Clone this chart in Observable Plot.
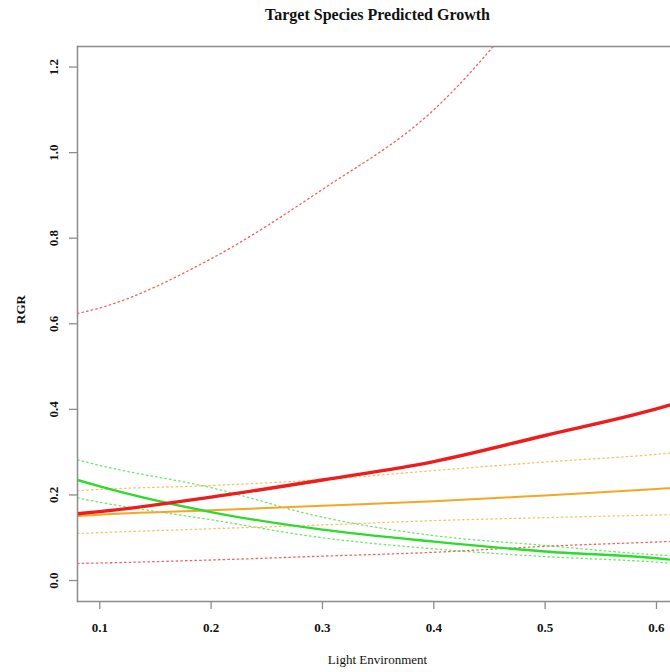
<!DOCTYPE html>
<html>
<head>
<meta charset="utf-8">
<script src="https://cdn.jsdelivr.net/npm/d3@7"></script>
<script src="https://cdn.jsdelivr.net/npm/@observablehq/plot@0.6"></script>
<style>
  html, body { margin: 0; padding: 0; background: #fff; overflow: hidden; }
  svg { display: block; }
</style>
</head>
<body>
<div id="chart"></div>
<script>
// ---- data ----
const lightX   = [0.08, 0.1, 0.2, 0.3, 0.4, 0.5, 0.6, 0.62];
const redFit   = [0.156, 0.161, 0.195, 0.235, 0.278, 0.339, 0.401, 0.416];
const redHi    = [0.624, 0.637, 0.752, 0.914, 1.100, 1.40, 1.78, 1.87];
const redLo    = [0.040, 0.041, 0.048, 0.057, 0.066, 0.080, 0.090, 0.092];
const orgFit   = [0.151, 0.154, 0.164, 0.175, 0.185, 0.199, 0.214, 0.217];
const orgHi    = [0.210, 0.213, 0.222, 0.236, 0.257, 0.277, 0.295, 0.300];
const orgLo    = [0.110, 0.112, 0.121, 0.130, 0.140, 0.147, 0.153, 0.154];
const grnFit   = [0.235, 0.220, 0.160, 0.119, 0.091, 0.068, 0.052, 0.047];
const grnHi    = [0.282, 0.269, 0.217, 0.148, 0.105, 0.082, 0.060, 0.057];
const grnLo    = [0.193, 0.183, 0.142, 0.100, 0.074, 0.056, 0.043, 0.039];
const xTicks   = [0.1, 0.2, 0.3, 0.4, 0.5, 0.6];
const yTicks   = [0.0, 0.2, 0.4, 0.6, 0.8, 1.0, 1.2];
const titleText = "Target Species Predicted Growth";
const xLabel = "Light Environment";
const yLabel = "RGR";

const toRows = (vals) => lightX.map((x, i) => ({x, y: vals[i]}));

const serif = "'Liberation Serif', 'Times New Roman', Times, serif";
const axisGray = "#8c8c8c";
const RED = "#ee1c1c", ORANGE = "#f6a623", GREEN = "#2bdc2b";

const dotted = (vals, color, op) => Plot.line(toRows(vals), {
  x: "x", y: "y", stroke: color, strokeWidth: 1.3, strokeDasharray: "1.5,3.2",
  strokeOpacity: op, clip: true, curve: "monotone-x"
});
const solid = (vals, color, w) => Plot.line(toRows(vals), {
  x: "x", y: "y", stroke: color, strokeWidth: w, clip: true, curve: "monotone-x"
});

const chart = Plot.plot({
  width: 670,
  height: 672,
  marginLeft: 77,
  marginRight: 0,
  marginTop: 46,
  marginBottom: 71,
  style: {fontFamily: serif, background: "#fff"},
  x: {domain: [0.08, 0.6126], axis: null},
  y: {domain: [-0.049, 1.248], axis: null},
  marks: [
    // confidence bands (dotted)
    dotted(redHi, RED, 0.7),
    dotted(redLo, RED, 0.7),
    dotted(orgHi, ORANGE, 0.7),
    dotted(orgLo, ORANGE, 0.7),
    dotted(grnHi, GREEN, 0.7),
    dotted(grnLo, GREEN, 0.7),
    // fitted lines
    solid(orgFit, ORANGE, 2),
    solid(grnFit, GREEN, 2.4),
    solid(redFit, RED, 3.4),
    // frame (right side cut off)
    Plot.frame({anchor: "top", stroke: axisGray, strokeWidth: 1.5}),
    Plot.frame({anchor: "left", stroke: axisGray, strokeWidth: 1.5}),
    Plot.frame({anchor: "bottom", stroke: axisGray, strokeWidth: 1.5}),
    // tick marks
    Plot.axisY(yTicks, {tickSize: 8, tickFormat: () => "", stroke: axisGray, strokeWidth: 1.3, label: null}),
    Plot.axisX(xTicks, {tickSize: 8, tickFormat: () => "", stroke: axisGray, strokeWidth: 1.3, label: null}),
    // tick labels
    Plot.text(yTicks, {
      y: d => d, frameAnchor: "left", dx: -24, rotate: -90,
      text: d => d.toFixed(1), fontWeight: "bold", fontSize: 13,
      textAnchor: "middle", lineAnchor: "middle", fill: "#111"
    }),
    Plot.text(xTicks, {
      x: d => d, frameAnchor: "bottom", dy: 26,
      text: d => d.toFixed(1), fontWeight: "bold", fontSize: 13,
      textAnchor: "middle", lineAnchor: "middle", fill: "#111"
    }),
    // axis titles and main title
    Plot.text([xLabel], {
      text: d => d, frameAnchor: "bottom", dx: 3.5, dy: 58,
      fontSize: 13, lineAnchor: "middle", fill: "#111"
    }),
    Plot.text([yLabel], {
      text: d => d, frameAnchor: "left", dx: -57, rotate: -90,
      fontSize: 13, fontWeight: "bold", lineAnchor: "middle", fill: "#111"
    }),
    Plot.text([titleText], {
      text: d => d, frameAnchor: "top", dx: 3.5, dy: -32,
      fontSize: 16, fontWeight: "bold", lineAnchor: "middle", fill: "#111"
    })
  ]
});

document.getElementById("chart").appendChild(chart);
</script>
</body>
</html>
